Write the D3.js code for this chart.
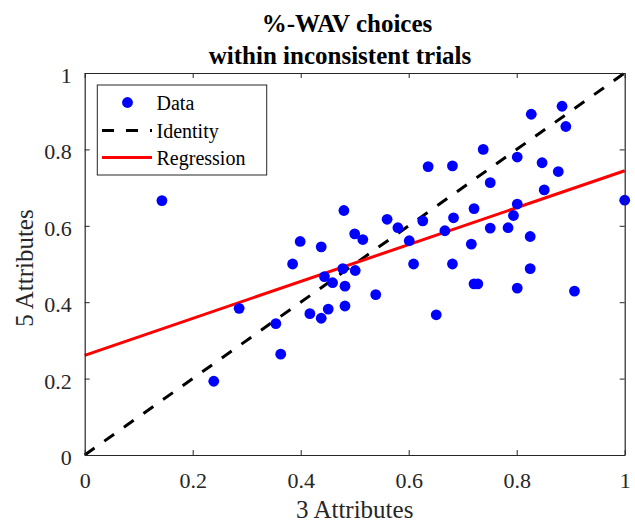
<!DOCTYPE html>
<html><head><meta charset="utf-8">
<script src="https://cdn.jsdelivr.net/npm/d3@7"></script>
<style>body{margin:0;background:#fff}svg{display:block}</style>
</head><body>
<svg id="c" width="635" height="522"></svg>
<script>
const xVals = [0.143,0.480,0.500,0.399,0.438,0.515,0.560,0.580,0.601,0.636,0.626,0.681,0.667,0.683,0.721,0.716,0.738,0.751,0.751,0.784,0.794,0.801,0.801,0.825,0.827,0.847,0.851,0.877,0.884,0.891,1.000,0.385,0.286,0.354,0.363,0.239,0.417,0.438,0.451,0.482,0.444,0.459,0.482,0.478,0.501,0.539,0.609,0.681,0.651,0.721,0.728,0.801,0.825,0.907];
const yVals = [0.666,0.640,0.579,0.559,0.545,0.564,0.617,0.595,0.561,0.755,0.613,0.757,0.587,0.621,0.645,0.552,0.800,0.713,0.594,0.595,0.627,0.657,0.780,0.572,0.892,0.765,0.694,0.742,0.913,0.860,0.667,0.500,0.384,0.344,0.264,0.193,0.370,0.358,0.382,0.390,0.467,0.451,0.442,0.488,0.483,0.420,0.500,0.500,0.367,0.448,0.448,0.437,0.488,0.429];
const identityX = [0, 1];
const identityY = [0, 1];
const regressionX = [0, 1];
const regressionY = [0.261, 0.744];
const tickVals = [0, 0.2, 0.4, 0.6, 0.8, 1];
const tickLabels = ["0", "0.2", "0.4", "0.6", "0.8", "1"];
const titleLines = ["%-WAV choices", "within inconsistent trials"];
const legendLabels = ["Data", "Identity", "Regression"];

const svg = d3.select("#c");
const L = 84.7, R = 624.7, T = 73, B = 455;
const x = d3.scaleLinear().domain([0,1]).range([L,R]);
const y = d3.scaleLinear().domain([0,1]).range([B,T]);
const font = "'Liberation Serif','Times New Roman',serif";
const axisCol = "#262626";
const dash = "12,12";

const line = d3.line().x(d=>x(d[0])).y(d=>y(d[1]));

// identity
svg.append("path").datum(d3.zip(identityX, identityY)).attr("d", line)
  .attr("stroke","#000").attr("stroke-width",3).attr("stroke-dasharray",dash).attr("fill","none");

// regression
svg.append("path").datum(d3.zip(regressionX, regressionY)).attr("d", line)
  .attr("stroke","#ff0000").attr("stroke-width",3).attr("fill","none");

// points
svg.append("g").selectAll("circle").data(d3.zip(xVals, yVals)).join("circle")
  .attr("cx",d=>x(d[0])).attr("cy",d=>y(d[1])).attr("r",5.4).attr("fill","#0000ff");

// axes
const fmt = (d)=>tickLabels[tickVals.indexOf(d)];
const gx = svg.append("g").attr("transform",`translate(0,${B})`)
  .call(d3.axisBottom(x).tickValues(tickVals).tickFormat(fmt).tickSizeInner(-5).tickSizeOuter(0).tickPadding(17));
const gxt = svg.append("g").attr("transform",`translate(0,${T})`)
  .call(d3.axisTop(x).tickValues(tickVals).tickFormat("").tickSizeInner(-5).tickSizeOuter(0));
const gy = svg.append("g").attr("transform",`translate(${L},0)`)
  .call(d3.axisLeft(y).tickValues(tickVals).tickFormat(fmt).tickSizeInner(-5).tickSizeOuter(0).tickPadding(13));
const gyr = svg.append("g").attr("transform",`translate(${R},0)`)
  .call(d3.axisRight(y).tickValues(tickVals).tickFormat("").tickSizeInner(-5).tickSizeOuter(0));
[gx,gxt,gy,gyr].forEach(g=>{
  g.selectAll("path").attr("stroke",axisCol).attr("stroke-width",1.2);
  g.selectAll("line").attr("stroke",axisCol).attr("stroke-width",1);
  g.selectAll("text").attr("font-family",font).attr("font-size",22).attr("fill","#262626");
});
gy.selectAll("text").attr("dy","0.43em");

// axis titles
svg.append("text").attr("x",(L+R)/2).attr("y",518).attr("text-anchor","middle")
  .attr("font-family",font).attr("font-size",25).attr("fill","#262626").text("3 Attributes");
svg.append("text").attr("transform",`translate(33,268) rotate(-90)`).attr("text-anchor","middle")
  .attr("font-family",font).attr("font-size",25).attr("fill","#262626").text("5 Attributes");

// title
const titleCx = [347, 340];
svg.append("g").selectAll("text").data(titleLines).join("text")
  .attr("x",(d,i)=>titleCx[i]).attr("y",(d,i)=>32+i*32).attr("text-anchor","middle")
  .attr("font-family",font).attr("font-weight","bold").attr("font-size",25).attr("fill","#000").text(d=>d);

// legend
const lg = svg.append("g");
lg.append("rect").attr("x",97.3).attr("y",85).attr("width",169.4).attr("height",90)
  .attr("fill","#fff").attr("stroke",axisCol).attr("stroke-width",1);
const ly = [102.5,130.5,157.5];
lg.append("circle").attr("cx",127.5).attr("cy",ly[0]).attr("r",5.4).attr("fill","#0000ff");
lg.append("line").attr("x1",102).attr("x2",152).attr("y1",ly[1]).attr("y2",ly[1])
  .attr("stroke","#000").attr("stroke-width",3).attr("stroke-dasharray",dash);
lg.append("line").attr("x1",102).attr("x2",152).attr("y1",ly[2]).attr("y2",ly[2])
  .attr("stroke","#ff0000").attr("stroke-width",3);
lg.selectAll("text.lt").data(legendLabels).join("text").attr("class","lt")
  .attr("x",156.5).attr("y",(d,i)=>ly[i]+7.5).attr("font-family",font).attr("font-size",20).attr("fill","#000").text(d=>d);
</script>
</body></html>
